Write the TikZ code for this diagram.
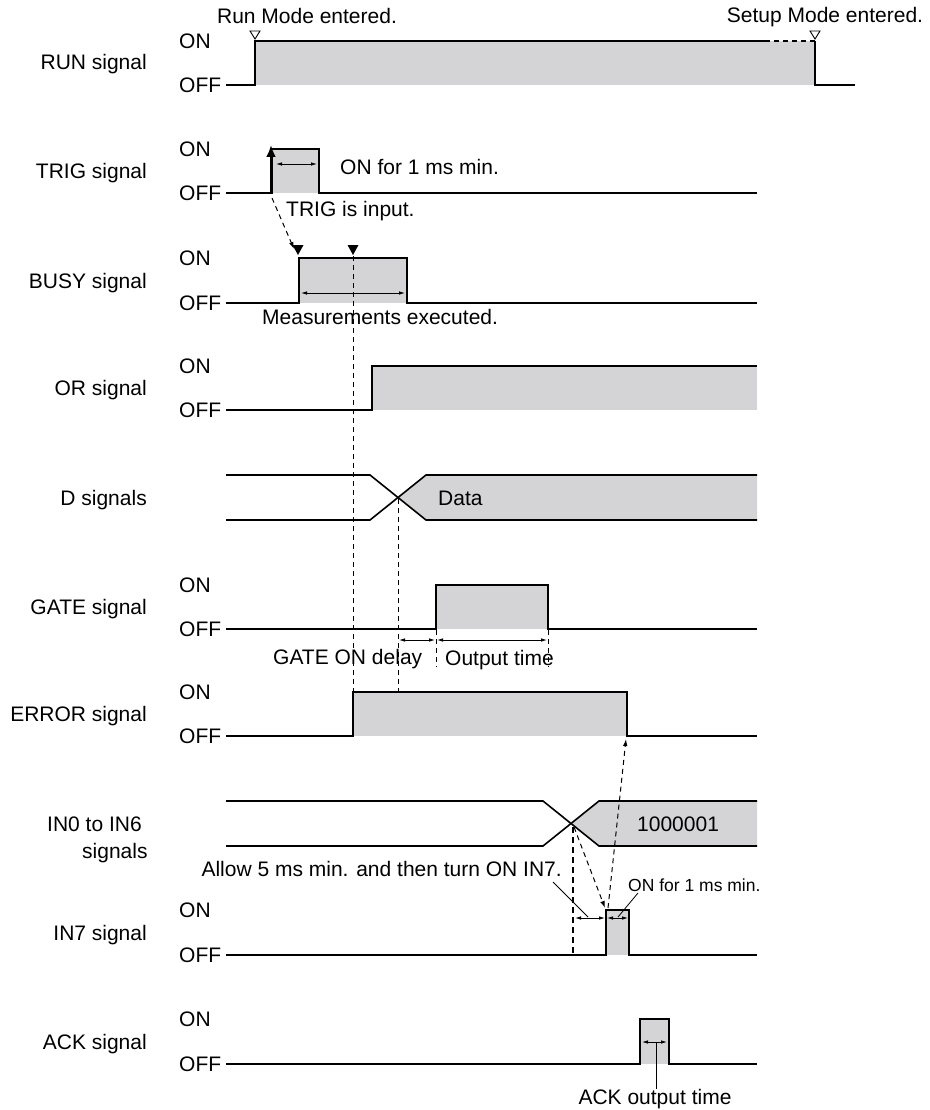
\documentclass[tikz,border=0pt]{standalone}
\usepackage{fontspec}
\setmainfont{Liberation Sans}
\usetikzlibrary{arrows.meta}
\definecolor{sigfill}{RGB}{212,212,214}
\begin{document}
\begin{tikzpicture}[x=1pt,y=-1pt,
  sig/.style={line width=1.6pt, line join=miter},
  txt/.style={font=\fontsize{21}{24}\selectfont, inner sep=0pt, anchor=base west},
  smalltxt/.style={font=\fontsize{17.5}{20}\selectfont, inner sep=0pt, anchor=base west},
  lvl/.style={font=\fontsize{21}{24}\selectfont, inner sep=0pt, anchor=west},
  siglbl/.style={font=\fontsize{21}{24}\selectfont, inner sep=0pt, anchor=base east},
  dsh/.style={line width=1pt, dash pattern=on 5pt off 4pt},
  dim/.style={line width=0.8pt, {Latex[length=6pt,width=3.5pt]}-{Latex[length=6pt,width=3.5pt]}},
  lead/.style={line width=0.8pt},
  darr/.style={dsh, -{Latex[length=7pt,width=4.5pt]}},
  opentri/.style={line width=0.9pt, fill=white},
]
\useasboundingbox (0,0) rectangle (929,1110);

% ---------- labels of the rows ----------
\node[siglbl] (lRUN) at (147,70) {RUN signal};
\node[siglbl] (lTRIG) at (147,178.5) {TRIG signal};
\node[siglbl] (lBUSY) at (147,288) {BUSY signal};
\node[siglbl] (lOR) at (147,395.5) {OR signal};
\node[siglbl] (lD) at (147,505) {D signals};
\node[siglbl] (lGATE) at (147,614.5) {GATE signal};
\node[siglbl] (lERR) at (147,721.5) {ERROR signal};
\node[txt] (lIN0a) at (47,831) {IN0 to IN6};
\node[txt] (lIN0b) at (82,858) {signals};
\node[siglbl] (lIN7) at (147,940) {IN7 signal};
\node[siglbl] (lACK) at (147,1049) {ACK signal};

% ON / OFF
\node[lvl] (on1) at (179,41) {ON};   \node[lvl] (off1) at (179,85) {OFF};
\node[lvl] (on2) at (179,149) {ON};  \node[lvl] (off2) at (179,193) {OFF};
\node[lvl] (on3) at (179,258) {ON};  \node[lvl] (off3) at (179,303) {OFF};
\node[lvl] (on4) at (179,366) {ON};  \node[lvl] (off4) at (179,410) {OFF};
\node[lvl] (on6) at (179,585) {ON};  \node[lvl] (off6) at (179,629) {OFF};
\node[lvl] (on7) at (179,692) {ON};  \node[lvl] (off7) at (179,736) {OFF};
\node[lvl] (on9) at (179,910) {ON};  \node[lvl] (off9) at (179,955) {OFF};
\node[lvl] (on10) at (179,1019) {ON}; \node[lvl] (off10) at (179,1064) {OFF};

% ---------- RUN ----------
\fill[sigfill] (255,41) rectangle (815,85);
\draw[sig] (226,85) -- (255,85) -- (255,41) -- (765,41);
\draw[line width=1.4pt, dash pattern=on 5pt off 4pt] (765,41) -- (815,41);
\draw[sig] (815,41) -- (815,85) -- (855,85);
\draw[opentri] (250,31) -- (260,31) -- (255,39) -- cycle;
\draw[opentri] (810,31) -- (820,31) -- (815,39) -- cycle;
\node[txt, anchor=base] (runmode) at (307,24) {Run Mode entered.};
\node[txt, anchor=base] (setupmode) at (825,23) {Setup Mode entered.};

% ---------- TRIG ----------
\fill[sigfill] (271,149) rectangle (319,193);
\draw[sig] (226,193) -- (271,193) -- (271,149) -- (319,149) -- (319,193) -- (757,193);
\draw[line width=3pt, -{Latex[length=12pt,width=10pt]}] (271,194) -- (271,145);
\draw[dim] (276,164) -- (317,164);
\node[txt] (trigon) at (340,175) {ON for 1 ms min.};
\node[txt] (trigin) at (286,216) {TRIG is input.};

% ---------- BUSY ----------
\fill[sigfill] (299,258) rectangle (407,303);
\draw[sig] (226,303) -- (299,303) -- (299,258) -- (407,258) -- (407,303) -- (757,303);
\fill (292.5,245) -- (303.5,245) -- (298,255) -- cycle;
\fill (347.5,245) -- (358.5,245) -- (353,255) -- cycle;
\draw[dim] (301,293) -- (405,293);
\node[txt] (meas) at (262,324) {Measurements executed.};
\coordinate (trigfoot) at (272,198);
\coordinate (busytop) at (294,249);
\draw[darr] (trigfoot) -- (busytop);

% ---------- OR ----------
\fill[sigfill] (372,366) rectangle (757,410);
\draw[sig] (226,410) -- (372,410) -- (372,366) -- (757,366);

% ---------- D ----------
\fill[sigfill] (398,497.5) -- (426,475) -- (757,475) -- (757,520) -- (426,520) -- cycle;
\draw[sig] (226,475) -- (370,475) -- (426,520) -- (757,520);
\draw[sig] (226,520) -- (370,520) -- (426,475) -- (757,475);
\node[txt] (data) at (438,505) {Data};

% ---------- GATE ----------
\fill[sigfill] (436,585) rectangle (548,629);
\draw[sig] (226,629) -- (436,629) -- (436,585) -- (548,585) -- (548,629) -- (757,629);
\draw[dim] (399,640) -- (435,640);
\draw[dim] (437,640) -- (547,640);
\node[txt] (gatedelay) at (273,664) {GATE ON delay};
\node[txt] (outtime) at (445,665) {Output time};

% ---------- ERROR ----------
\fill[sigfill] (353,692) rectangle (627,736);
\draw[sig] (226,736) -- (353,736) -- (353,692) -- (627,692) -- (627,736) -- (757,736);

% vertical dashed guides
\draw[dsh] (353,256) -- (353,692);
\draw[dsh] (398,499) -- (398,692);
\draw[dsh] (436,630) -- (436,667);
\draw[dsh] (548,630) -- (548,667);

% ---------- IN0 to IN6 ----------
\fill[sigfill] (571,823.5) -- (599,801) -- (757,801) -- (757,846) -- (599,846) -- cycle;
\draw[sig] (226,801) -- (543,801) -- (599,846) -- (757,846);
\draw[sig] (226,846) -- (543,846) -- (599,801) -- (757,801);
\node[txt] (code) at (637,831) {1000001};

% ---------- IN7 ----------
\fill[sigfill] (606,910) rectangle (629,955);
\draw[sig] (226,955) -- (606,955) -- (606,910) -- (629,910) -- (629,955) -- (757,955);
\draw[line width=2.6pt, dash pattern=on 6pt off 4pt] (573,827) -- (573,955);
\coordinate (inx) at (574,827);
\coordinate (in7top) at (605,908);
\coordinate (in7topb) at (608,908);
\coordinate (errfall) at (626,739);
\draw[darr] (inx) -- (in7top);
\draw[darr] (in7topb) -- (errfall);
\draw[dim] (575,918) -- (605,918);
\draw[dim] (607,918) -- (628,918);
\node[txt, anchor=base east] (allow) at (562,876) {Allow 5 ms min. and then turn ON IN7.};
\node[smalltxt] (in7on) at (628,891) {ON for 1 ms min.};
\coordinate (allowend) at (553,882);
\coordinate (allowtip) at (588,917);
\coordinate (onend) at (638,893);
\coordinate (ontip) at (618,917);
\draw[lead] (allowend) -- (allowtip);
\draw[lead] (onend) -- (ontip);

% ---------- ACK ----------
\fill[sigfill] (640,1019) rectangle (669,1064);
\draw[sig] (226,1064) -- (640,1064) -- (640,1019) -- (669,1019) -- (669,1064) -- (757,1064);
\draw[dim] (642,1042) -- (667,1042);
\node[txt, anchor=base] (acktime) at (655,1104) {ACK output time};
\coordinate (ackmid) at (656,1042);
\draw[lead] (ackmid) -- (acktime.north -| ackmid);
\end{tikzpicture}
\end{document}
